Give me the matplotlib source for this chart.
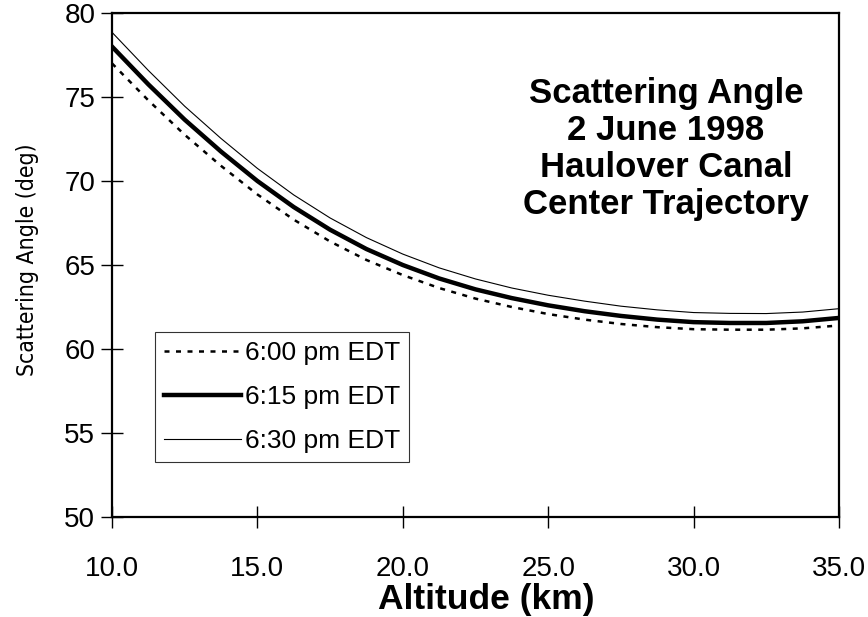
import matplotlib.pyplot as plt

# altitude (km) and scattering angle (deg)
altitud = [10.0, 11.25, 12.5, 13.75, 15.0, 16.25, 17.5, 18.75, 20.0, 21.25, 22.5,
           23.75, 25.0, 26.25, 27.5, 28.75, 30.0, 31.25, 32.5, 33.75, 35.0]
angulo_600 = [77.0, 74.8, 72.75, 70.9, 69.2, 67.7, 66.4, 65.3, 64.4, 63.63, 63.0,
              62.5, 62.08, 61.75, 61.49, 61.3, 61.18, 61.15, 61.15, 61.23, 61.4]
angulo_615 = [78.0, 75.75, 73.65, 71.75, 70.0, 68.45, 67.1, 65.95, 65.0, 64.2, 63.55,
              63.03, 62.6, 62.25, 61.97, 61.75, 61.6, 61.55, 61.55, 61.65, 61.85]
angulo_630 = [78.85, 76.58, 74.45, 72.53, 70.75, 69.17, 67.8, 66.63, 65.65, 64.83, 64.17,
              63.63, 63.2, 62.85, 62.55, 62.33, 62.17, 62.12, 62.11, 62.2, 62.4]
etiquetas = ['6:00 pm EDT', '6:15 pm EDT', '6:30 pm EDT']
xticks = [10.0, 15.0, 20.0, 25.0, 30.0, 35.0]
yticks = [50, 55, 60, 65, 70, 75, 80]

plt.rcParams['font.family'] = ['Liberation Sans', 'DejaVu Sans']

fig = plt.figure(figsize=(8.68, 6.17), dpi=100)
ax = fig.add_axes([0.129, 0.162, 0.8376, 0.817])

ax.plot(altitud, angulo_600, color='black', linewidth=1.8, linestyle=(0, (2.0, 2.6)), label=etiquetas[0])
ax.plot(altitud, angulo_615, color='black', linewidth=3.2, label=etiquetas[1])
ax.plot(altitud, angulo_630, color='black', linewidth=0.8, label=etiquetas[2])

ax.set_xlim(10, 35)
ax.set_ylim(50, 80)
ax.set_xticks(xticks)
ax.set_xticklabels([f'{v:.1f}' for v in xticks])
ax.set_yticks(yticks)
ax.tick_params(axis='both', direction='inout', length=16, width=1, labelsize=20)
ax.tick_params(axis='x', pad=20)
ax.tick_params(axis='y', pad=4)
for s in ax.spines.values():
    s.set_linewidth(1.6)
    s.set_color('black')

ax.set_xlabel('Altitude (km)', fontsize=25.5, fontweight='bold')
ax.xaxis.set_label_coords(0.515, -0.13)
ax.set_ylabel('Scattering Angle (deg)', fontsize=16.5,
              family=['Liberation Sans Narrow', 'DejaVu Sans'], fontstretch='condensed')
ax.yaxis.set_label_coords(-0.1, 0.51)

ax.text(0.762, 0.73, 'Scattering Angle\n2 June 1998\nHaulover Canal\nCenter Trajectory',
        transform=ax.transAxes, ha='center', va='center', fontsize=25,
        fontweight='bold', linespacing=1.16)

leg = ax.legend(loc='upper left', bbox_to_anchor=(0.059, 0.367), fontsize=19,
                frameon=True, fancybox=False, handlelength=2.9, handletextpad=0.15,
                borderpad=0.35, labelspacing=0.75, borderaxespad=0)
leg.get_frame().set_edgecolor('black')
leg.get_frame().set_linewidth(0.8)

fig.savefig('out.png', dpi=100)
